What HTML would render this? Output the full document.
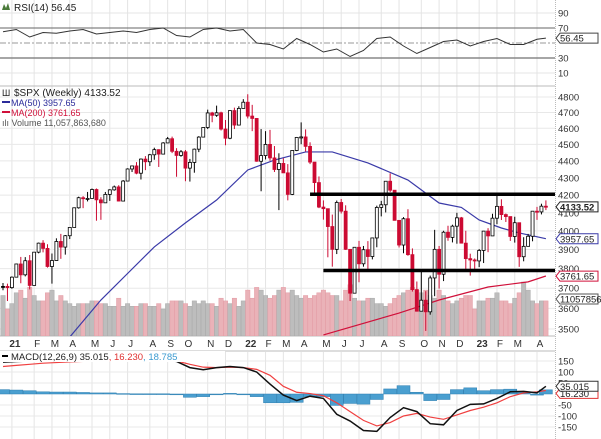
<!DOCTYPE html>
<html><head><meta charset="utf-8"><style>
html,body{margin:0;padding:0;background:#fff;}
svg{display:block;font-family:"Liberation Sans",sans-serif;}
</style></head><body>
<svg id="c" width="601" height="439" viewBox="0 0 601 439" xmlns="http://www.w3.org/2000/svg">
<defs>
<clipPath id="mainClip"><rect x="0" y="86" width="555" height="250"/></clipPath>
<clipPath id="macdClip"><rect x="0" y="352" width="555" height="87"/></clipPath>
</defs>
<g id="grid"></g>
<g id="vol" clip-path="url(#mainClip)"></g>
<g id="ma" clip-path="url(#mainClip)"></g>
<g id="candles" clip-path="url(#mainClip)"></g>
<g id="rsi"></g>
<g id="macd"></g>
<g id="axes"></g>
<g id="legend">
  <text x="14" y="11" font-size="10" fill="#222">RSI(14) 56.45</text>
  <path d="M2 10 L4 4 L6 8 L8 3 L10 10 Z" fill="#4a7a3a"/>
  <text x="14" y="96" font-size="10" fill="#222">$SPX (Weekly) 4133.52</text>
  <text x="2" y="96" font-size="9" fill="#222">Ш</text>
  <rect x="2" y="101" width="8" height="2" fill="#2b2b9a"/>
  <text x="11" y="106" font-size="9" fill="#2b2b9a">MA(50) 3957.65</text>
  <rect x="2" y="111" width="8" height="2" fill="#d0103a"/>
  <text x="11" y="116" font-size="9" fill="#d0103a">MA(200) 3761.65</text>
  <text x="2" y="126" font-size="9" fill="#555">ılı Volume 11,057,863,680</text>
  <rect x="0" y="351" width="225" height="11" fill="#fff"/>
  <rect x="2" y="355" width="6" height="2" fill="#000"/>
  <text x="11" y="360" font-size="9.5"><tspan fill="#222">MACD(12,26,9) 35.015</tspan><tspan fill="#e03030">, 16.230</tspan><tspan fill="#3a9ad0">, 18.785</tspan></text>
</g>
</svg>
<script>
// ---- data ----
const closes=[3709,3703,3756,3824,3768,3841,3714,3886,3934,3906,
3811,3842,3943,3913,3974,4019,4128,4185,4180,4181,
4232,4173,4156,4204,4230,4247,4166,4281,4352,4370,
4327,4411,4395,4437,4468,4441,4509,4535,4458,4433,
4455,4357,4391,4471,4545,4605,4697,4682,4698,4595,
4538,4712,4620,4726,4766,4677,4662,4398,4432,4500,
4418,4349,4385,4329,4204,4463,4543,4546,4488,4393,
4272,4132,4123,4024,3901,4158,4109,3901,3675,3912,
3825,3899,3863,3962,4130,4145,4280,4228,4058,3924,
4067,3873,3693,3586,3640,3583,3752,3901,3771,3993,
3965,4026,4072,3934,3852,3845,3840,3895,3999,3973,
4070,4136,4090,4079,3970,4045,3862,3917,3971,4109,
4105,4137,4133];
const highs=[3726,3723,3760,3826,3861,3860,3871,3887,3937,3950,
3928,3879,3960,3984,3978,4020,4130,4191,4194,4218,
4238,4238,4188,4218,4234,4255,4257,4287,4356,4372,
4393,4415,4429,4442,4480,4470,4514,4546,4548,4477,
4466,4466,4412,4475,4551,4608,4718,4704,4744,4705,
4652,4713,4731,4740,4786,4818,4749,4663,4595,4582,
4590,4490,4446,4416,4381,4465,4546,4637,4593,4513,
4372,4308,4170,4109,4090,4169,4178,4142,3893,3913,
3946,3919,3945,3964,4140,4167,4281,4326,4204,3954,
4076,4120,3906,3734,3798,3685,3764,4006,3919,4001,
4028,4034,4100,4077,4001,3878,3853,3903,4000,4015,
4095,4195,4176,4096,4013,4078,3937,3966,3984,4110,
4133,4151,4170];
const lows=[3690,3636,3697,3755,3725,3760,3694,3726,3880,3885,
3805,3723,3840,3851,3873,3956,4021,4123,4126,4164,
4181,4056,4061,4155,4167,4225,4164,4176,4282,4334,
4321,4290,4345,4370,4407,4364,4441,4508,4447,4306,
4425,4280,4278,4330,4453,4545,4595,4638,4672,4586,
4495,4532,4595,4643,4737,4662,4582,4395,4222,4409,
4401,4334,4115,4367,4170,4200,4459,4501,4457,4381,
4204,4126,4062,3859,3810,3876,4096,3898,3636,3700,
3730,3810,3788,3848,3912,4080,4102,4217,4057,3911,
3880,3867,3683,3584,3610,3491,3569,3660,3698,3736,
3947,3938,3931,3932,3794,3764,3796,3808,3829,3886,
3973,4037,4060,4049,3946,3937,3809,3838,3937,3944,
4061,4091,4115];
const volumes=[15,10,12,16,17,14,18,15,13,13,
16,17,13,15,13,12,11,12,12,12,
13,13,12,12,11,11,14,11,12,11,
11,12,12,11,11,12,10,12,13,13,
13,12,11,13,12,13,12,12,11,14,
13,12,14,11,13,17,14,18,17,15,
14,15,17,18,16,17,15,14,15,14,
15,16,17,16,15,15,13,17,19,14,
13,13,14,14,12,12,11,12,14,15,
16,17,18,17,16,17,15,14,17,15,
13,12,13,14,15,15,10,13,13,14,
14,16,13,13,12,14,16,20,17,13,
12,13,13];
const ma50Idx=[12,15,22,34,41,48,55,61,68,74,82,91,98,103,107,112,116,122];
const ma50Vals=[3380,3462,3641,3914,4044,4172,4346,4405,4454,4454,4388,4287,4155,4130,4060,4016,3989,3958];
const ma200Idx=[72,89,98,109,118,122];
const ma200Vals=[3472,3577,3641,3706,3732,3762];
const rsiIdx=[0,3,6,9,12,15,18,21,24,27,30,33,36,39,42,45,48,51,54,57,60,63,66,69,72,75,78,81,84,87,90,93,96,99,102,105,108,111,114,117,120,122];
const rsiVals=[65,68,58,64,63,66,68,62,64,66,64,68,70,60,58,68,70,66,68,50,48,42,56,48,38,42,32,40,56,58,46,36,44,52,54,46,52,56,48,48,55,56.45];
const macdIdx=rsiIdx;
const macdVals=[145,148,150,150,152,155,155,155,155,153,153,153,153,148,120,110,120,125,120,100,45,-5,-30,-10,-20,-92,-123,-166,-170,-107,-62,-80,-135,-140,-75,-47,-45,-20,10,12,5,35];
const signalVals=[125,130,135,140,143,146,148,150,150,151,152,152,152,150,135,122,120,122,120,112,85,35,8,2,-8,-40,-80,-120,-145,-130,-100,-88,-105,-115,-95,-75,-60,-40,-12,5,10,16];
const histVals=[20,18,15,10,9,9,7,5,5,2,1,1,1,-2,-15,-12,0,3,0,-12,-40,-40,-38,-12,-12,-52,-43,-46,-25,23,38,8,-30,-25,20,28,15,20,22,7,-5,19];
const monthLabels=["21","F","M","A","M","J","J","A","S","O","N","D","22","F","M","A","M","J","J","A","S","O","N","D","23","F","M","A"];
const monthWeeks=[2,7,11,15,20,24,28,33,37,41,46,50,55,59,63,67,72,76,80,85,89,94,98,102,107,111,115,120];
const priceTicks=[4800,4700,4600,4500,4400,4300,4200,4100,4000,3900,3800,3700,3600,3500];
const rsiTicks=[90,70,30,10];
const macdTicks=[150,100,50,-50,-100,-150];
const levelLines=[[4205,69],[3790,72]];

// ---- scales ----
const NS="http://www.w3.org/2000/svg";
const xW=i=>3+i*4.45;
const yP=p=>97+734.6*Math.log(4800/p);
const yR=v=>28+(70-v)*0.75;
const yM=v=>394-v*0.22;
const yV=v=>336-v*2.7;
function mk(tag,attrs,parent){const e=document.createElementNS(NS,tag);for(const k in attrs)e.setAttribute(k,attrs[k]);parent.appendChild(e);return e;}
const G=id=>document.getElementById(id);

const grid=G('grid');
monthWeeks.forEach((w,k)=>{
  const gl=mk('line',{x1:xW(w),x2:xW(w),y1:0,y2:336,stroke:'#e4e4e4','stroke-width':1},grid);
  
  
  const gl2=mk('line',{x1:xW(w),x2:xW(w),y1:352,y2:439,stroke:'#e4e4e4','stroke-width':1},grid);
  
  
});
priceTicks.forEach(p=>{
  const l=mk('line',{x1:0,x2:555,y1:yP(p),y2:yP(p),stroke:'#e8e8e8'},grid);
  
  
});
[90,10].forEach(v=>{const l=mk('line',{x1:0,x2:555,y1:yR(v),y2:yR(v),stroke:'#e4e4e4'},grid);
  
  });
macdTicks.forEach(v=>{const l=mk('line',{x1:0,x2:555,y1:yM(v),y2:yM(v),stroke:'#e8e8e8'},grid);
  
  });
[86,336,351].forEach(y=>{const l=mk('line',{x1:0,x2:555,y1:y,y2:y,stroke:'#bbb'},grid);
  
  });

const vol=G('vol');
volumes.forEach((v,i)=>{
  const down=i>0&&closes[i]<closes[i-1];
  const r=mk('rect',{x:xW(i)-2.2,y:yV(v),width:4.4,height:336-yV(v),fill:down?'#eab2b8':'#bdbdbd',stroke:down?'#e39aa3':'#a9a9a9','stroke-width':0.5},vol);
  
  
});

const ma=G('ma');
const p50=mk('polyline',{points:ma50Idx.map((w,k)=>xW(w)+','+yP(ma50Vals[k])).join(' '),fill:'none',stroke:'#3a3aa8','stroke-width':1.2},ma);


const p200=mk('polyline',{points:ma200Idx.map((w,k)=>xW(w)+','+yP(ma200Vals[k])).join(' '),fill:'none',stroke:'#d0103a','stroke-width':1.2},ma);



const cg=G('candles');
closes.forEach((c,i)=>{
  const o=i>0?closes[i-1]:c;
  const h=Math.max(highs[i],o,c), l=Math.min(lows[i],o,c);
  const down=i>0&&c<closes[i-1];
  const col=down?'#cc0a32':'#000';
  const x=xW(i);
  const w=mk('line',{x1:x,x2:x,y1:yP(h),y2:yP(l),stroke:col,'stroke-width':1},cg);
  
  
  const top=yP(Math.max(o,c)),bot=yP(Math.min(o,c));
  const b=mk('rect',{x:x-1.5,y:top,width:3,height:Math.max(1,bot-top),fill:c>o?'#fff':col,stroke:col,'stroke-width':0.8},cg);
  
  
});
levelLines.forEach(([p,w])=>{
  const l=mk('line',{x1:xW(w),x2:555,y1:yP(p),y2:yP(p),stroke:'#000','stroke-width':3.5},cg);
  
  
});

const rg=G('rsi');
[[70,'#666',1,'none'],[30,'#888',1.5,'none'],[50,'#999',1,'6,2,2,2']].forEach(([v,s,sw,d])=>{
  const l=mk('line',{x1:0,x2:555,y1:yR(v),y2:yR(v),stroke:s,'stroke-width':sw,'stroke-dasharray':d},rg);
  
  
});
const rl=mk('polyline',{points:rsiIdx.map((w,k)=>xW(w)+','+yR(rsiVals[k])).join(' '),fill:'none',stroke:'#333','stroke-width':1},rg);



const mg=G('macd');
const mc=mk('g',{'clip-path':'url(#macdClip)'},mg);
macdIdx.forEach((w,k)=>{
  const v=histVals[k];
  const y0=yM(0),y1=yM(v);
  const r=mk('rect',{x:xW(w)-6.5,y:Math.min(y0,y1),width:13,height:Math.max(0.8,Math.abs(y1-y0)),fill:'#4a9fd0',stroke:'#2f7fb0','stroke-width':0.5},mc);
  
  
});
const sl=mk('polyline',{points:macdIdx.map((w,k)=>xW(w)+','+yM(signalVals[k])).join(' '),fill:'none',stroke:'#f04040','stroke-width':1.2},mc);


const ml=mk('polyline',{points:macdIdx.map((w,k)=>xW(w)+','+yM(macdVals[k])).join(' '),fill:'none',stroke:'#111','stroke-width':1.5},mc);



const ax=G('axes');
const al=mk('line',{x1:555.5,x2:555.5,y1:0,y2:439,stroke:'#bbb','stroke-dasharray':'1,1'},ax);


function lbl(x,y,t,name,extra){const e=mk('text',Object.assign({x:x,y:y,'font-size':9.5,fill:'#333'},extra||{}),ax);e.textContent=t;
  
  return e;}
priceTicks.forEach(p=>lbl(558,yP(p)+3.5,String(p),'price-tick-label'));
rsiTicks.forEach(v=>lbl(558,yR(v)+3.5,String(v),'rsi-tick-label'));
macdTicks.forEach(v=>lbl(558,yM(v)+3.5,String(v),'macd-tick-label'));
monthLabels.forEach((t,k)=>lbl(xW(monthWeeks[k])+3,347,t,'month-label',{'text-anchor':'middle','font-weight':/\d/.test(t)?'bold':'normal','font-size':10}));
function box(y,t,stroke,bold,name){
  const r=mk('path',{d:'M556 '+y+' l4 -5 h38 v10 h-38 z',fill:'#fff',stroke:stroke,'stroke-width':1},ax);
  
  
  lbl(560,y+3.5,t,name,{'font-weight':bold?'bold':'normal','font-size':9.5,fill:'#222'});
}
box(yR(56.45),'56.45','#444',false,'rsi-value-label');
box(yP(4133.52),'4133.52','#222',true,'price-value-label');
box(yP(3957.65),'3957.65','#3a3aa8',false,'ma50-value-label');
box(yP(3761.65),'3761.65','#d0103a',false,'ma200-value-label');
box(299,'11057856','#555',false,'volume-value-label');
box(yM(16.23)+3,'16.230','#e03030',false,'signal-value-label');
box(yM(35.015),'35.015','#333',false,'macd-value-label');
// keep legend on top
document.getElementById('c').appendChild(document.getElementById('legend'));
</script>
</body></html>
